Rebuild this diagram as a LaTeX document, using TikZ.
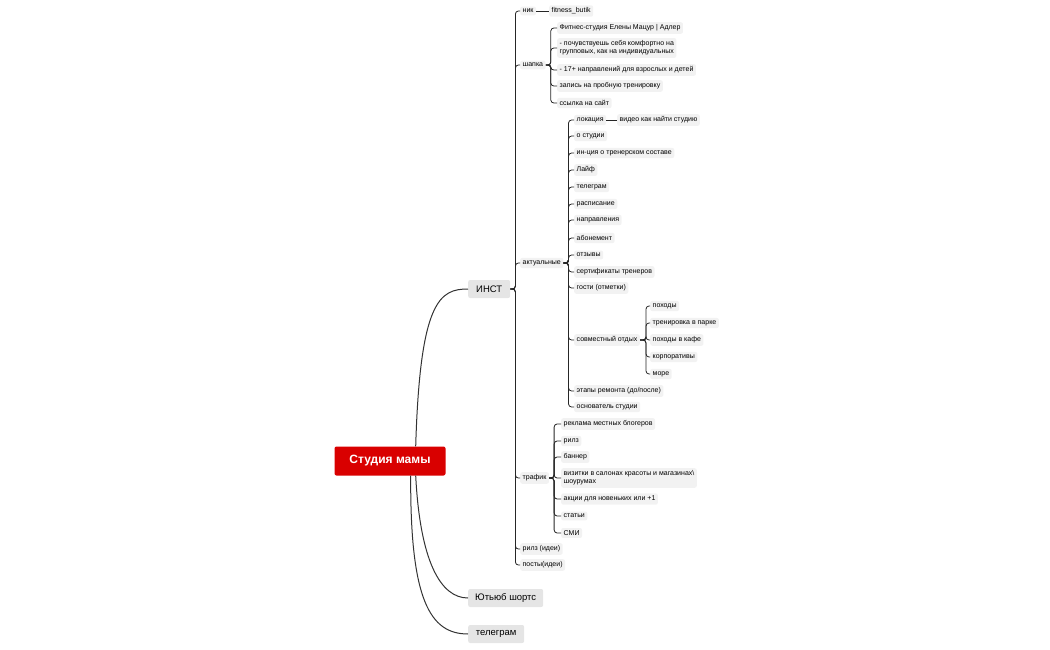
\documentclass[tikz,border=0pt]{standalone}
\usepackage{fontspec}
\setmainfont{Liberation Sans}
\usetikzlibrary{positioning}
\tikzset{
  leaf/.style={fill=black!5, rounded corners=2pt, inner sep=2.5pt, anchor=west, font=\fontsize{7}{8}\selectfont, align=left},
  mid/.style={fill=black!10, rounded corners=2pt, inner sep=3pt, minimum height=18pt, font=\fontsize{9.5}{10}\selectfont},
  br/.style={draw=black!85, line width=0.8pt, rounded corners=3pt},
  crv/.style={draw=black!80, line width=1pt}
}
\newcommand\bra[3]{\draw[br] (#1.east) -- ++(#3,0) |- (#2.west);}
\begin{document}
\begin{tikzpicture}[x=1pt,y=-1pt]
\useasboundingbox (0,0) rectangle (1050,650);

% root and main branches
\node[fill=red!85!black, text=white, rounded corners=2pt, minimum width=111pt, minimum height=29pt, font=\fontsize{12}{14}\selectfont\bfseries] (root) at (390,461) {Студия мамы};
\node[mid, anchor=west, minimum width=42pt] (inst) at (468,289) {ИНСТ};
\node[mid, anchor=west, minimum width=75pt] (yt) at (468,598) {Ютьюб шортс};
\node[mid, anchor=west, minimum width=56pt] (tg) at (468,634) {телеграм};
\draw[crv] (root.north east) ++(-30,0) .. controls (420,300) and (440,289) .. (inst.west);
\draw[crv] (root.south east) ++(-30,0) .. controls (420,560) and (440,598) .. (yt.west);
\draw[crv] (root.south east) ++(-35,0) .. controls (410,600) and (430,634) .. (tg.west);

% ИНСТ
\foreach \n/\t/\y in {nik/ник/11, shapka/шапка/65, akt/актуальные/263, traf/трафик/478, rils/рилз (идеи)/549, posts/посты(идеи)/565}
  {\node[leaf] (\n) at (520,\y) {\t}; \bra{inst}{\n}{5}}

\node[leaf] (fb) at (549,11) {fitness\_butik};
\draw[br] (nik) -- (fb);

% шапка
\foreach \n/\t/\y in {s1/{Фитнес-студия Елены Мацур | Адлер}/28,
  s2/{- почувствуешь себя комфортно на\\групповых, как на индивидуальных}/48,
  s3/{- 17+ направлений для взрослых и детей}/70,
  s4/{запись на пробную тренировку}/86,
  s5/{ссылка на сайт}/103}
  {\node[leaf] (\n) at (557,\y) {\t}; \bra{shapka}{\n}{5}}

% актуальные
\foreach \n/\t/\y in {a1/локация/120, a2/о студии/136, a3/{ин-ция о тренерском составе}/153,
  a4/Лайф/170, a5/телеграм/187, a6/расписание/204, a7/направления/220, a8/абонемент/238,
  a9/отзывы/255, a10/сертификаты тренеров/272, a11/{гости (отметки)}/288,
  a12/совместный отдых/340, a13/{этапы ремонта (до/после)}/391, a14/основатель студии/407}
  {\node[leaf] (\n) at (574,\y) {\t}; \bra{akt}{\n}{5}}

\node[leaf] (vid) at (617,120) {видео как найти студию};
\draw[br] (a1) -- (vid);

\foreach \n/\t/\y in {o1/походы/306, o2/тренировка в парке/323, o3/походы в кафе/340, o4/корпоративы/357, o5/море/374}
  {\node[leaf] (\n) at (650,\y) {\t}; \bra{a12}{\n}{6}}

% трафик
\foreach \n/\t/\y in {t1/реклама местных блогеров/424, t2/рилз/441, t3/баннер/457,
  t4/{визитки в салонах красоты и магазинах\textbackslash\\шоурумах}/478,
  t5/{акции для новеньких или +1}/499, t6/статьи/516, t7/СМИ/533}
  {\node[leaf] (\n) at (561,\y) {\t}; \bra{traf}{\n}{5}}
\end{tikzpicture}
\end{document}
